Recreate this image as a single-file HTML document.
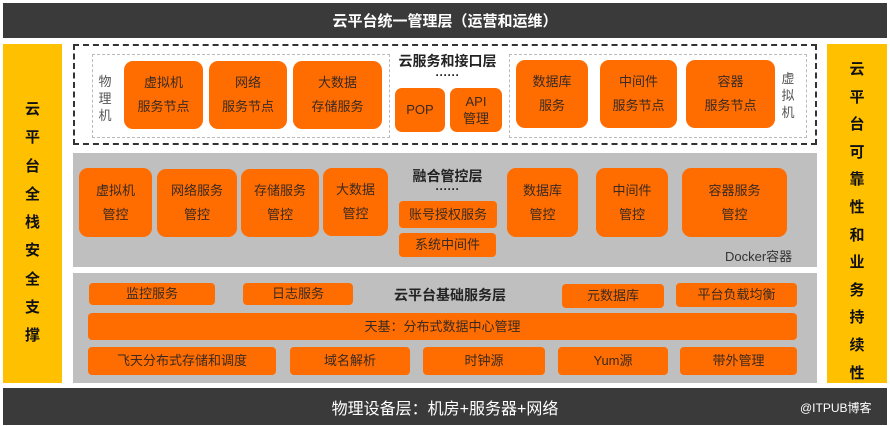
<!DOCTYPE html>
<html><head><meta charset="utf-8"><style>
*{margin:0;padding:0;box-sizing:border-box}
body{width:890px;height:426px;background:#fff;position:relative;overflow:hidden;font-family:"Liberation Sans","Noto Sans CJK SC",sans-serif;}
div{position:absolute}
.o{background:#ff6c00;border-radius:9px;color:#3a2a20;font-size:13px;display:flex;align-items:center;justify-content:center;text-align:center;line-height:24px}
.s{border-radius:4px;font-size:13px;line-height:16px}
.dark{background:#3a3a3a;color:#fff;display:flex;align-items:center;justify-content:center}
.y{background:#ffc000;color:#111;font-weight:bold;font-size:15px;text-align:center}
.g{background:#bfbfbf}
.t{font-weight:bold;font-size:14px;color:#222;text-align:center}
.v{font-size:13px;color:#555;line-height:17px;width:14px;text-align:center}
</style></head><body>
<div class="dark" style="left:3px;top:3px;width:884px;height:35px;font-size:15px;font-weight:bold">云平台统一管理层（运营和运维）</div>
<div class="y" style="left:3px;top:44px;width:59px;height:339px;padding-top:52px;line-height:28.3px">云<br>平<br>台<br>全<br>栈<br>安<br>全<br>支<br>撑</div>
<div class="y" style="left:827px;top:44px;width:60px;height:339px;padding-top:12px;line-height:27.6px">云<br>平<br>台<br>可<br>靠<br>性<br>和<br>业<br>务<br>持<br>续<br>性</div>

<div style="left:73px;top:44px;width:744px;height:101px;border:2px dashed #333"></div>
<div style="left:92px;top:54px;width:298px;height:84px;border:1px dashed #bbb"></div>
<div style="left:509px;top:54px;width:298px;height:84px;border:1px dashed #bbb"></div>
<div class="v" style="left:98px;top:73px">物理机</div>
<div class="v" style="left:781px;top:70px">虚拟机</div>
<div class="o" style="left:124px;top:61px;width:79px;height:68px">虚拟机<br>服务节点</div>
<div class="o" style="left:209px;top:61px;width:78px;height:68px">网络<br>服务节点</div>
<div class="o" style="left:293px;top:61px;width:89px;height:68px">大数据<br>存储服务</div>
<div class="t" style="left:390px;top:51px;width:115px">云服务和接口层</div>
<div class="t" style="left:390px;top:68px;width:115px;font-size:12px">······</div>
<div class="o" style="left:395px;top:88px;width:50px;height:44px;border-radius:7px">POP</div>
<div class="o" style="left:450px;top:88px;width:52px;height:44px;border-radius:7px;line-height:17px">API<br>管理</div>
<div class="o" style="left:516px;top:60px;width:72px;height:68px">数据库<br>服务</div>
<div class="o" style="left:600px;top:60px;width:77px;height:68px">中间件<br>服务节点</div>
<div class="o" style="left:686px;top:60px;width:89px;height:68px">容器<br>服务节点</div>

<div class="g" style="left:73px;top:153px;width:744px;height:114px"></div>
<div class="o" style="left:79px;top:168px;width:73px;height:69px">虚拟机<br>管控</div>
<div class="o" style="left:157px;top:169px;width:80px;height:68px">网络服务<br>管控</div>
<div class="o" style="left:241px;top:169px;width:78px;height:68px">存储服务<br>管控</div>
<div class="o" style="left:323px;top:168px;width:65px;height:68px">大数据<br>管控</div>
<div class="t" style="left:390px;top:166px;width:115px">融合管控层</div>
<div class="t" style="left:390px;top:182px;width:115px;font-size:12px">······</div>
<div class="o s" style="left:399px;top:201px;width:98px;height:27px">账号授权服务</div>
<div class="o s" style="left:399px;top:233px;width:97px;height:24px">系统中间件</div>
<div class="o" style="left:507px;top:168px;width:71px;height:69px">数据库<br>管控</div>
<div class="o" style="left:596px;top:168px;width:72px;height:69px">中间件<br>管控</div>
<div class="o" style="left:682px;top:168px;width:105px;height:69px">容器服务<br>管控</div>
<div style="left:725px;top:246px;font-size:13px;color:#333">Docker容器</div>

<div class="g" style="left:73px;top:273px;width:744px;height:110px"></div>
<div class="o s" style="left:89px;top:283px;width:126px;height:22px">监控服务</div>
<div class="o s" style="left:243px;top:283px;width:110px;height:22px">日志服务</div>
<div class="t" style="left:380px;top:285px;width:140px">云平台基础服务层</div>
<div class="o s" style="left:562px;top:284px;width:102px;height:24px">元数据库</div>
<div class="o s" style="left:676px;top:283px;width:121px;height:24px">平台负载均衡</div>
<div class="o s" style="left:88px;top:313px;width:709px;height:27px">天基：分布式数据中心管理</div>
<div class="o s" style="left:88px;top:347px;width:188px;height:28px">飞天分布式存储和调度</div>
<div class="o s" style="left:290px;top:347px;width:120px;height:28px">域名解析</div>
<div class="o s" style="left:423px;top:347px;width:122px;height:28px">时钟源</div>
<div class="o s" style="left:558px;top:347px;width:110px;height:28px">Yum源</div>
<div class="o s" style="left:680px;top:347px;width:117px;height:28px">带外管理</div>

<div class="dark" style="left:3px;top:388px;width:884px;height:37px;font-size:16px">物理设备层：机房+服务器+网络</div>
<div style="left:800px;top:399px;color:#fff;font-size:12px">@ITPUB博客</div>
</body></html>
